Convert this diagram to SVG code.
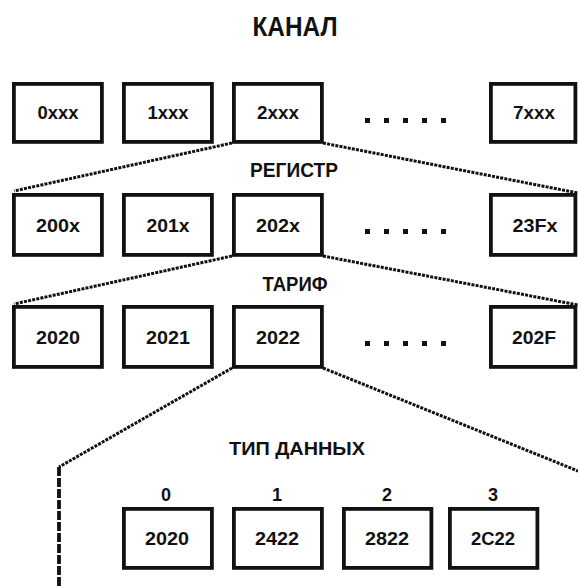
<svg xmlns="http://www.w3.org/2000/svg" width="578" height="586" viewBox="0 0 578 586">
<style>
.box{fill:#fff;stroke:#111;stroke-width:3.8}
.t{font-family:"Liberation Sans",Arial,sans-serif;font-weight:bold;fill:#111;text-anchor:middle}
.bt{font-size:19px}
.h{font-size:20px}
.c{fill:none;stroke:#111;stroke-width:3;stroke-dasharray:3 1.2}
.v{fill:none;stroke:#111;stroke-width:3.8;stroke-dasharray:9 2}
.dot{fill:#111}
</style>
<rect width="578" height="586" fill="#fff"/>
<text class="t" x="295" y="36" font-size="27" textLength="85" lengthAdjust="spacingAndGlyphs">КАНАЛ</text>
<text class="t h" x="294" y="177" textLength="88" lengthAdjust="spacingAndGlyphs">РЕГИСТР</text>
<text class="t h" x="295" y="291" textLength="65" lengthAdjust="spacingAndGlyphs">ТАРИФ</text>
<text class="t" x="297" y="455" font-size="19" textLength="136" lengthAdjust="spacingAndGlyphs">ТИП ДАННЫХ</text>
<g id="connectors">
<path class="c" d="M232,143 L14,191"/>
<path class="c" d="M323,143 L578,193"/>
<path class="c" d="M232,256 L14,304"/>
<path class="c" d="M323,256 L578,305"/>
<path class="c" d="M232,368 L59,467"/>
<path class="c" d="M323,368 L578,471"/>
<path class="v" d="M59,467 L59,586"/>
</g>
<g id="dots">
<rect class="dot" x="365" y="118" width="5" height="5"/><rect class="dot" x="384" y="118" width="5" height="5"/><rect class="dot" x="403" y="118" width="5" height="5"/><rect class="dot" x="422" y="118" width="5" height="5"/><rect class="dot" x="441" y="118" width="5" height="5"/>
<rect class="dot" x="365" y="229" width="5" height="5"/><rect class="dot" x="384" y="229" width="5" height="5"/><rect class="dot" x="403" y="229" width="5" height="5"/><rect class="dot" x="422" y="229" width="5" height="5"/><rect class="dot" x="441" y="229" width="5" height="5"/>
<rect class="dot" x="365" y="341" width="5" height="5"/><rect class="dot" x="384" y="341" width="5" height="5"/><rect class="dot" x="403" y="341" width="5" height="5"/><rect class="dot" x="422" y="341" width="5" height="5"/><rect class="dot" x="441" y="341" width="5" height="5"/>
</g>
<g id="n0xxx"><rect class="box" x="13.9" y="83.9" width="88" height="58"/><text class="t bt" x="58" y="119" textLength="41" lengthAdjust="spacingAndGlyphs">0xxx</text></g>
<g id="n1xxx"><rect class="box" x="123.9" y="83.9" width="88" height="58"/><text class="t bt" x="168" y="119" textLength="41" lengthAdjust="spacingAndGlyphs">1xxx</text></g>
<g id="n2xxx"><rect class="box" x="233.9" y="83.9" width="88" height="58"/><text class="t bt" x="278" y="119" textLength="42" lengthAdjust="spacingAndGlyphs">2xxx</text></g>
<g id="n7xxx"><rect class="box" x="490.9" y="83.9" width="84.5" height="58"/><text class="t bt" x="534" y="119" textLength="42" lengthAdjust="spacingAndGlyphs">7xxx</text></g>
<g id="n200x"><rect class="box" x="13.9" y="194.9" width="88" height="60"/><text class="t bt" x="58" y="231.5" textLength="44" lengthAdjust="spacingAndGlyphs">200x</text></g>
<g id="n201x"><rect class="box" x="123.9" y="194.9" width="88" height="60"/><text class="t bt" x="168" y="231.5" textLength="43" lengthAdjust="spacingAndGlyphs">201x</text></g>
<g id="n202x"><rect class="box" x="233.9" y="194.9" width="88" height="60"/><text class="t bt" x="278" y="231.5" textLength="44" lengthAdjust="spacingAndGlyphs">202x</text></g>
<g id="n23Fx"><rect class="box" x="490.9" y="194.9" width="84.5" height="60"/><text class="t bt" x="535" y="231.5" textLength="45" lengthAdjust="spacingAndGlyphs">23Fx</text></g>
<g id="n2020"><rect class="box" x="13.9" y="306.9" width="88" height="60"/><text class="t bt" x="58" y="343.5" textLength="44" lengthAdjust="spacingAndGlyphs">2020</text></g>
<g id="n2021"><rect class="box" x="123.9" y="306.9" width="88" height="60"/><text class="t bt" x="168" y="343.5" textLength="44" lengthAdjust="spacingAndGlyphs">2021</text></g>
<g id="n2022"><rect class="box" x="233.9" y="306.9" width="88" height="60"/><text class="t bt" x="278" y="343.5" textLength="44" lengthAdjust="spacingAndGlyphs">2022</text></g>
<g id="n202F"><rect class="box" x="490.9" y="306.9" width="84.5" height="60"/><text class="t bt" x="534" y="343.5" textLength="44" lengthAdjust="spacingAndGlyphs">202F</text></g>
<g id="d0"><text class="t" x="166" y="501" font-size="18">0</text><rect class="box" x="123.9" y="508.9" width="88" height="59"/><text class="t bt" x="167" y="544.5" textLength="44" lengthAdjust="spacingAndGlyphs">2020</text></g>
<g id="d1"><text class="t" x="277" y="501" font-size="18">1</text><rect class="box" x="233.9" y="508.9" width="88" height="59"/><text class="t bt" x="277" y="544.5" textLength="44" lengthAdjust="spacingAndGlyphs">2422</text></g>
<g id="d2"><text class="t" x="387" y="501" font-size="18">2</text><rect class="box" x="343.9" y="508.9" width="87.5" height="59"/><text class="t bt" x="387" y="544.5" textLength="44" lengthAdjust="spacingAndGlyphs">2822</text></g>
<g id="d3"><text class="t" x="493" y="501" font-size="18">3</text><rect class="box" x="449.9" y="508.9" width="87.5" height="59"/><text class="t bt" x="493" y="544.5" textLength="44" lengthAdjust="spacingAndGlyphs">2C22</text></g>
</svg>
